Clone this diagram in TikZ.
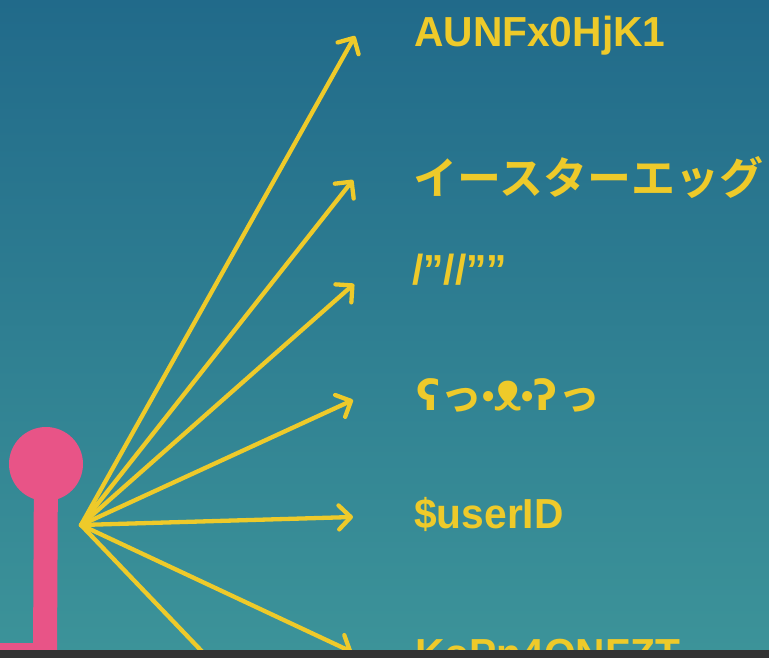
\documentclass[tikz,border=0pt]{standalone}
\usepackage{fontspec}
\setmainfont[FakeStretch=0.97]{Liberation Sans}
\newfontfamily\jpfont{Noto Sans CJK JP}[BoldFont=* Bold]
\newfontfamily\symfont{DejaVu Sans}
\newfontfamily\notofont{Noto Sans}
\usetikzlibrary{arrows.meta}
\definecolor{SeaTop}{RGB}{33, 106, 138}
\definecolor{SeaBottom}{RGB}{60, 147, 153}
\definecolor{StemPink}{RGB}{232, 84, 135}
\definecolor{FanYellow}{RGB}{238, 202, 42}
\definecolor{BarGray}{RGB}{51, 51, 51}

\begin{document}
\begin{tikzpicture}[x=1pt, y=-1pt,
        tag/.style={anchor=base west, inner sep=0pt, text=FanYellow,
                    font=\fontsize{42}{48}\selectfont\bfseries},
        fanarrow/.style={-{Straight Barb[length=12pt, width=24pt, round]},
                         line width=4.3pt, FanYellow, line cap=round}]

        \useasboundingbox (0, 0) rectangle (769, 658);
        \clip (0, 0) rectangle (769, 658);

        % Background
        \shade[top color=SeaTop, bottom color=SeaBottom] (0, 0) rectangle (769, 650);

        % Pink stem and bulb
        \node[circle, fill=StemPink, minimum size=74pt, inner sep=0pt] (bulb) at (46, 464) {};
        \draw[StemPink, line width=24pt, line join=miter] (bulb.center) -- (45, 655) -- (-20, 655);

        % Fan source and arrow tips
        \coordinate (src) at (81, 525);
        \coordinate (tip1) at (355, 36);
        \coordinate (tip2) at (353, 180);
        \coordinate (tip3) at (354, 284);
        \coordinate (tip4) at (353, 400);
        \coordinate (tip5) at (353, 517);
        \coordinate (tip6) at (352, 652);
        \coordinate (tip7) at (260, 712);

        \foreach \i in {1,...,7}
            \draw[fanarrow] (src) -- (tip\i);

        % Labels
        \node[tag] (id1) at (414, 47) {AUNFx0HjK1};
        \node[tag, font=\fontsize{44}{48}\jpfont\bfseries] (id2) at (413, 195) {イースターエッグ};
        \node[tag] (id3) at (412, 284) {/”//””};
        \node[tag] (id4) at (416, 410) {{\symfont\bfseries ʕ}{\jpfont\bfseries っ}%
            {\fontsize{36}{36}\selectfont\raisebox{2pt}{•}}{\notofont\bfseries\fontsize{54}{54}\selectfont ᴥ}%
            {\fontsize{36}{36}\selectfont\raisebox{2pt}{•}}{\symfont\bfseries ʔ}{\jpfont\bfseries っ}};
        \node[tag] (id5) at (414, 528) {\$userID};
        \node[tag] (id6) at (415, 668) {KoPn4ONFZT};

        % Bottom bar
        \fill[BarGray] (0, 650) rectangle (769, 658);
    \end{tikzpicture}
\end{document}
